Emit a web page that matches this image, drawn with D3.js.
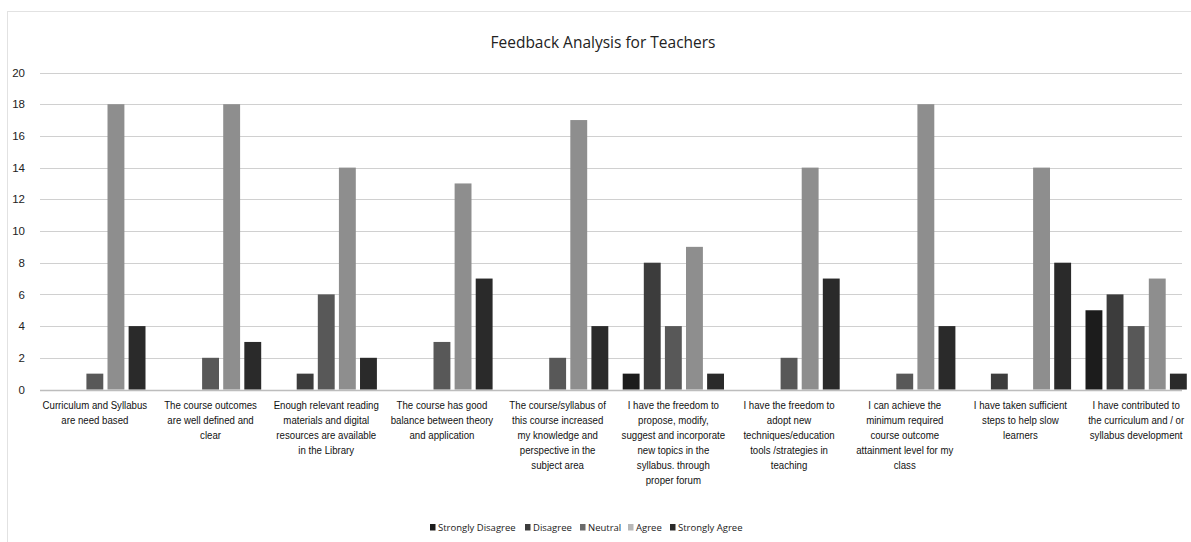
<!DOCTYPE html>
<html>
<head>
<meta charset="utf-8">
<script src="https://cdn.jsdelivr.net/npm/d3@7"></script>
<style>
  html, body { margin: 0; padding: 0; background: #ffffff; }
  svg { display: block; }
</style>
</head>
<body>
<svg id="chart" width="1191" height="542"></svg>
<script>
const title = "Feedback Analysis for Teachers";
const categories = [
  ["Curriculum and Syllabus", "are need based"],
  ["The course outcomes", "are well defined and", "clear"],
  ["Enough relevant reading", "materials and digital", "resources are available", "in the Library"],
  ["The course has good", "balance between theory", "and application"],
  ["The course/syllabus of", "this course increased", "my knowledge and", "perspective in the", "subject area"],
  ["I have the freedom to", "propose, modify,", "suggest and incorporate", "new topics in the", "syllabus. through", "proper forum"],
  ["I have the freedom to", "adopt new", "techniques/education", "tools /strategies in", "teaching"],
  ["I can achieve the", "minimum required", "course outcome", "attainment level for my", "class"],
  ["I have taken sufficient", "steps to help slow", "learners"],
  ["I have contributed to", "the curriculum and / or", "syllabus development"]
];
const seriesNames = ["Strongly Disagree", "Disagree", "Neutral", "Agree", "Strongly Agree"];
const stronglyDisagree = [0, 0, 0, 0, 0, 1, 0, 0, 0, 5];
const disagree         = [0, 0, 1, 0, 0, 8, 0, 0, 1, 6];
const neutral          = [1, 2, 6, 3, 2, 4, 2, 1, 0, 4];
const agree            = [18, 18, 14, 13, 17, 9, 14, 18, 14, 7];
const stronglyAgree    = [4, 3, 2, 7, 4, 1, 7, 4, 8, 1];
const yTicks = [0, 2, 4, 6, 8, 10, 12, 14, 16, 18, 20];
const seriesColors = ["#1c1c1c", "#3c3c3c", "#585858", "#8e8e8e", "#2a2a2a"];
const legendColors = ["#1c1c1c", "#3c3c3c", "#6a6a6a", "#b8b8b8", "#2a2a2a"];

const seriesValues = [stronglyDisagree, disagree, neutral, agree, stronglyAgree];

const svg = d3.select("#chart");
const W = 1191, H = 542;
const font = "'Liberation Sans', Arial, sans-serif";

// chart border (faint)
svg.append("rect")
  .attr("x", 7.5).attr("y", 11.5)
  .attr("width", W - 6).attr("height", H - 8)
  .attr("fill", "none").attr("stroke", "#e2e2e2").attr("stroke-width", 1);

const x0 = d3.scaleBand()
  .domain(d3.range(categories.length))
  .range([37, 1194])
  .paddingInner(0.088)
  .paddingOuter(0.044);

const x1 = d3.scaleBand()
  .domain(d3.range(seriesNames.length))
  .range([0, x0.bandwidth()])
  .paddingInner(0.2)
  .paddingOuter(0.1);

const y = d3.scaleLinear().domain([0, 20]).range([389.5, 72.5]);

// grid lines
svg.append("g")
  .selectAll("line")
  .data(yTicks)
  .join("line")
  .attr("x1", 40).attr("x2", 1182)
  .attr("y1", d => Math.round(y(d)) + 0.5)
  .attr("y2", d => Math.round(y(d)) + 0.5)
  .attr("stroke", d => d === 0 ? "#bdbdbd" : "#d0d0d0")
  .attr("stroke-width", d => d === 0 ? 1.5 : 1);

// y axis labels
const yAxis = d3.axisLeft(y).tickValues(yTicks).tickSize(0).tickPadding(0);
const gy = svg.append("g").attr("transform", "translate(25,0)").call(yAxis);
gy.select(".domain").remove();
gy.selectAll("text")
  .attr("font-family", font)
  .attr("font-size", 11.5)
  .attr("fill", "#222");

// bars
const groups = svg.append("g")
  .selectAll("g")
  .data(categories.map((c, i) => i))
  .join("g")
  .attr("transform", i => `translate(${x0(i)},0)`);

groups.selectAll("rect")
  .data(i => seriesValues.map((arr, s) => ({ s, v: arr[i] })))
  .join("rect")
  .filter(d => d.v > 0)
  .attr("x", d => x1(d.s))
  .attr("width", x1.bandwidth())
  .attr("y", d => y(d.v))
  .attr("height", d => y(0) - y(d.v))
  .attr("fill", d => seriesColors[d.s]);

// category labels (condensed to mimic narrow font)
const lab = svg.append("g")
  .selectAll("text")
  .data(categories)
  .join("text")
  .attr("font-family", font)
  .attr("font-size", 11.5)
  .attr("fill", "#111")
  .attr("text-anchor", "middle")
  .attr("transform", (d, i) => `translate(${x0(i) + x0.bandwidth() / 2},409) scale(0.84,1)`);
lab.selectAll("tspan")
  .data(d => d)
  .join("tspan")
  .attr("x", 0)
  .attr("dy", (d, j) => j === 0 ? 0 : 15)
  .text(d => d);

// title
svg.append("text")
  .attr("x", 603).attr("y", 48)
  .attr("text-anchor", "middle")
  .attr("font-family", "'Open Sans', 'Liberation Sans', sans-serif")
  .attr("font-size", 15.5)
  .attr("fill", "#222")
  .text(title);

// legend
const legendX = [430, 525, 580, 628, 670];
const leg = svg.append("g")
  .selectAll("g")
  .data(seriesNames)
  .join("g")
  .attr("transform", (d, i) => `translate(${legendX[i]},530)`);
leg.append("rect")
  .attr("x", 0).attr("y", -6)
  .attr("width", 5.5).attr("height", 6.5)
  .attr("fill", (d, i) => legendColors[i]);
leg.append("text")
  .attr("x", 8).attr("y", 0.5)
  .attr("font-family", "'Open Sans', 'Liberation Sans', sans-serif")
  .attr("font-size", 9.5)
  .attr("fill", "#222")
  .text(d => d);
</script>
</body>
</html>
